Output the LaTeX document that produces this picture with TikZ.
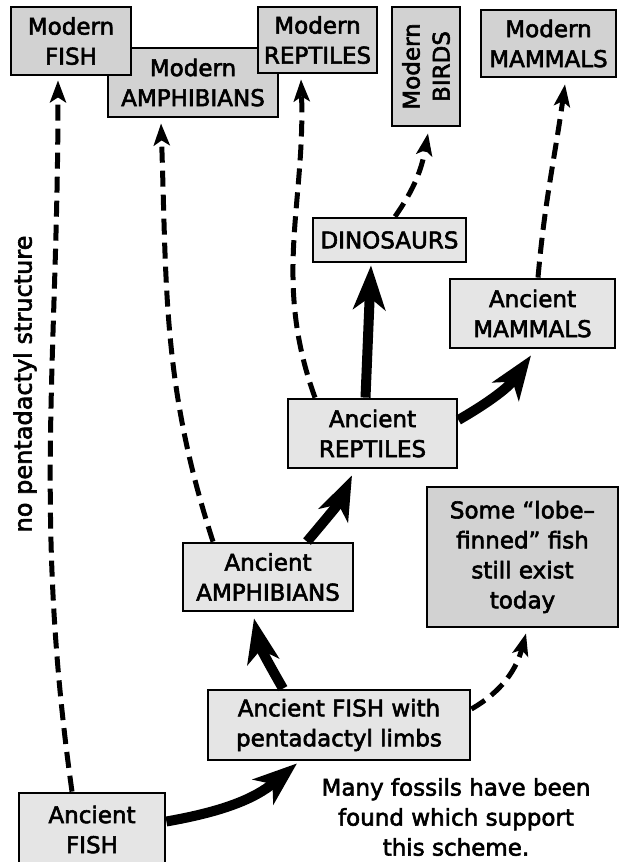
\documentclass[tikz,border=0pt]{standalone}
\usepackage{fontspec}
\newfontfamily\lblfont{DejaVu Sans}[FakeBold=2.5]
\usetikzlibrary{arrows.meta}

\tikzset{
 box/.style={draw,line width=2.8pt,align=center,inner sep=2pt,font=\lblfont\fontsize{23}{30}\selectfont},
 modbox/.style={box,fill=gray!35},
 ancbox/.style={box,fill=gray!20},
 thickarrow/.style={line width=10pt,-{Stealth[length=44pt,width=32pt,inset=12pt]}},
 dasharrow/.style={line width=5pt,dash pattern=on 16pt off 8pt,-{Stealth[length=22pt,width=16pt,inset=5pt]}}
}

\begin{document}
\begin{tikzpicture}[x=1pt,y=1pt]
\useasboundingbox (0,0) rectangle (619,862);
% modern groups
\node[modbox,minimum width=170pt,minimum height=69pt] (mamph) at (193,779.5) {Modern\\AMPHIBIANS};
\node[modbox,minimum width=120pt,minimum height=68pt] (mfish) at (71,821) {Modern\\FISH};
\node[modbox,minimum width=119pt,minimum height=66pt] (mrept) at (317.5,822) {Modern\\REPTILES};
\node[modbox,rotate=90,minimum width=119pt,minimum height=68pt] (mbird) at (426,795.5) {Modern\\BIRDS};
\node[modbox,minimum width=135pt,minimum height=67pt] (mmamm) at (548.5,818.5) {Modern\\MAMMALS};
% ancient groups
\node[ancbox,minimum width=153pt,minimum height=44pt] (dino) at (389.5,622) {DINOSAURS};
\node[ancbox,minimum width=165pt,minimum height=69pt] (amamm) at (532.5,548.5) {Ancient\\MAMMALS};
\node[ancbox,minimum width=169pt,minimum height=69pt] (arept) at (372.5,428.5) {Ancient\\REPTILES};
\node[modbox,minimum width=191pt,minimum height=140pt] (lobe) at (522.5,305) {Some “lobe–\\finned” fish\\still exist\\today};
\node[ancbox,minimum width=170pt,minimum height=68pt] (aamph) at (268,285) {Ancient\\AMPHIBIANS};
\node[ancbox,minimum width=262pt,minimum height=70pt] (penta) at (339,137) {Ancient FISH with\\pentadactyl limbs};
\node[ancbox,minimum width=146pt,minimum height=73pt] (afish) at (92,32.5) {Ancient\\FISH};
% notes
\node[align=center,font=\lblfont\fontsize{23}{30}\selectfont] (note) at (456,45) {Many fossils have been\\found which support\\this scheme.};
\node[rotate=90,font=\lblfont\fontsize{24}{30}\selectfont] (nopenta) at (25,478) {no pentadactyl structure};
% main line of descent
\draw[thickarrow] ([yshift=8pt]afish.east) to[out=10,in=-140] ([xshift=-42pt,yshift=-2pt]penta.south);
\draw[thickarrow] ([xshift=-56pt]penta.north) to[out=120,in=-78] ([xshift=-14pt,yshift=-6pt]aamph.south);
\draw[thickarrow] ([xshift=39pt]aamph.north) to[out=50,in=-115] ([xshift=-20.5pt,yshift=-6pt]arept.south);
\draw[thickarrow] ([xshift=-7pt]arept.north) -- ([xshift=-18.5pt,yshift=-2pt]dino.south);
\draw[thickarrow] ([yshift=13.5pt]arept.east) to[out=30,in=-125] ([xshift=-1.5pt,yshift=-6pt]amamm.south);
% to modern forms
\draw[dasharrow] ([xshift=-20pt]afish.north) to[out=98,in=-90] ([xshift=-13pt,yshift=-4pt]mfish.south);
\draw[dasharrow] ([xshift=-55pt]aamph.north) to[out=108,in=-88] ([xshift=-32pt,yshift=-5pt]mamph.south);
\draw[dasharrow] ([xshift=-57.5pt]arept.north) to[out=110,in=-88] ([xshift=-16.5pt,yshift=-5pt]mrept.south);
\draw[dasharrow] ([xshift=5.5pt]dino.north) to[out=55,in=-100] ([xshift=2pt,yshift=-6pt]mbird.west);
\draw[dasharrow] ([xshift=5.5pt]amamm.north) to[out=85,in=-98] ([xshift=16.5pt,yshift=-6pt]mmamm.south);
\draw[dasharrow] ([yshift=16pt]penta.east) to[out=30,in=-105] ([xshift=3.5pt,yshift=-5pt]lobe.south);
\end{tikzpicture}
\end{document}
